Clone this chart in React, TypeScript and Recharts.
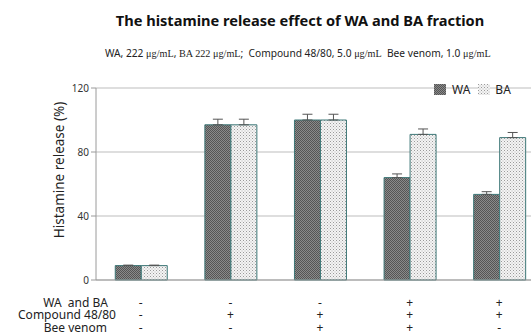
import { BarChart, Bar, XAxis, YAxis, CartesianGrid, Legend, ErrorBar } from "recharts";

const groups = ["control", "c4880", "c4880+bv", "wa+c4880+bv", "wa+c4880"];
const waValues = [9, 97, 100, 64, 53.5];
const baValues = [9, 97, 100, 91, 89];
const waErr = [0.3, 3.5, 3.6, 2.3, 1.7];
const baErr = [0.3, 3.5, 3.6, 3.4, 3.2];
const waBaRow = ["-", "-", "-", "+", "+"];
const compoundRow = ["-", "+", "+", "+", "+"];
const venomRow = ["-", "-", "+", "+", "-"];
const rowLabels = ["WA  and BA", "Compound 48/80", "Bee venom"];
const yTicks = [0, 40, 80, 120];

const data = groups.map((g, i) => ({
  group: g,
  WA: waValues[i],
  BA: baValues[i],
  waErr: [0, waErr[i]],
  baErr: [0, baErr[i]],
}));

const font = "'Noto Sans', 'DejaVu Sans', sans-serif";
const labelRight = [108, 116, 107];
const rowBase = [307, 318.5, 331.5];

const SignTick = (props: any) => {
  const { x, payload, index } = props;
  const i = payload.index ?? index;
  const rows = [waBaRow[i], compoundRow[i], venomRow[i]];
  return (
    <g>
      {index === 0 &&
        rowLabels.map((l, r) => (
          <text key={"l" + r} x={labelRight[r]} y={rowBase[r]} textAnchor="end" fontSize={12} fill="#222" fontFamily={font} style={{ whiteSpace: "pre" }}>
            {l}
          </text>
        ))}
      {rows.map((s, r) => (
        <text key={r} x={x} y={rowBase[r]} textAnchor="middle" fontSize={12} fill="#222" fontFamily={font}>
          {s}
        </text>
      ))}
    </g>
  );
};

const LegendBox = () => (
  <div style={{ display: "flex", alignItems: "center", fontFamily: font, fontSize: 12, color: "#222" }}>
    <svg width={12} height={11} style={{ marginRight: 6 }}>
      <rect width={12} height={11} fill="url(#waPat)" />
    </svg>
    <span style={{ marginRight: 8 }}>WA</span>
    <svg width={12} height={11} style={{ marginRight: 5 }}>
      <rect width={12} height={11} fill="url(#baPat)" />
    </svg>
    <span>BA</span>
  </div>
);

export default function App() {
  const ug = { fontFamily: "'Liberation Serif', serif" };
  return (
    <div style={{ position: "absolute", left: 0, top: 0, width: 531, height: 332, overflow: "hidden", background: "#fff" }}>
      <div style={{ position: "absolute", top: 10, left: 0, width: 600, textAlign: "center", fontFamily: font, fontWeight: "bold", fontSize: 14.6, color: "#111" }}>
        The histamine release effect of WA and BA fraction
      </div>
      <div style={{ position: "absolute", top: 46, left: 105, whiteSpace: "nowrap", fontFamily: font, fontSize: 10.2, color: "#222" }}>
        WA, 222 <span style={ug}>μg/mL</span>, <span style={ug}>BA 222 μg/mL</span>;&nbsp; Compound 48/80, 5.0 <span style={ug}>μg/mL</span>&nbsp; Bee venom, 1.0 <span style={ug}>μg/mL</span>
      </div>
      <svg width={0} height={0} style={{ position: "absolute" }}>
        <defs>
          <pattern id="waPat" width={2} height={2} patternUnits="userSpaceOnUse">
            <rect width={2} height={2} fill="#8a8a8a" />
            <rect width={1} height={1} fill="#555" />
            <rect x={1} y={1} width={1} height={1} fill="#555" />
          </pattern>
          <pattern id="baPat" width={3} height={3} patternUnits="userSpaceOnUse">
            <rect width={3} height={3} fill="#f4f4f4" />
            <rect width={1} height={1} fill="#9a9a9a" />
            <rect x={1.5} y={1.5} width={1} height={1} fill="#b5b5b5" />
          </pattern>
        </defs>
      </svg>
      <div style={{ position: "absolute", left: 0, top: 0 }}>
        <BarChart
          width={545}
          height={332}
          data={data}
          margin={{ top: 71, right: 1, bottom: 0, left: 52 }}
          barCategoryGap="21.5%"
          barGap={0}
        >
          <CartesianGrid vertical={false} stroke="#bdbdbd" />
          <XAxis
            dataKey="group"
            interval={0}
            height={52}
            stroke="#9a9a9a"
            tickLine={false}
            tick={<SignTick />}
          />
          <YAxis
            width={44}
            domain={[0, 120]}
            ticks={yTicks}
            stroke="#9a9a9a"
            tickSize={5}
            tick={{ fontSize: 10, fill: "#333", fontFamily: font }}
            label={{
              value: "Histamine release (%)",
              angle: -90,
              position: "insideLeft",
              offset: 0,
              dx: 7,
              dy: -14,
              style: { fontSize: 13.5, fill: "#222", fontFamily: font, textAnchor: "middle" },
            }}
          />
          <Legend
            verticalAlign="top"
            content={<LegendBox />}
            wrapperStyle={{ position: "absolute", top: 81, left: 434, width: 100 }}
          />
          <Bar dataKey="WA" fill="url(#waPat)" stroke="#3e7878" strokeWidth={1} isAnimationActive={false}>
            <ErrorBar dataKey="waErr" width={5} stroke="#555" strokeWidth={1} direction="y" />
          </Bar>
          <Bar dataKey="BA" fill="url(#baPat)" stroke="#3e7878" strokeWidth={1} isAnimationActive={false}>
            <ErrorBar dataKey="baErr" width={5} stroke="#555" strokeWidth={1} direction="y" />
          </Bar>
        </BarChart>
      </div>
    </div>
  );
}
